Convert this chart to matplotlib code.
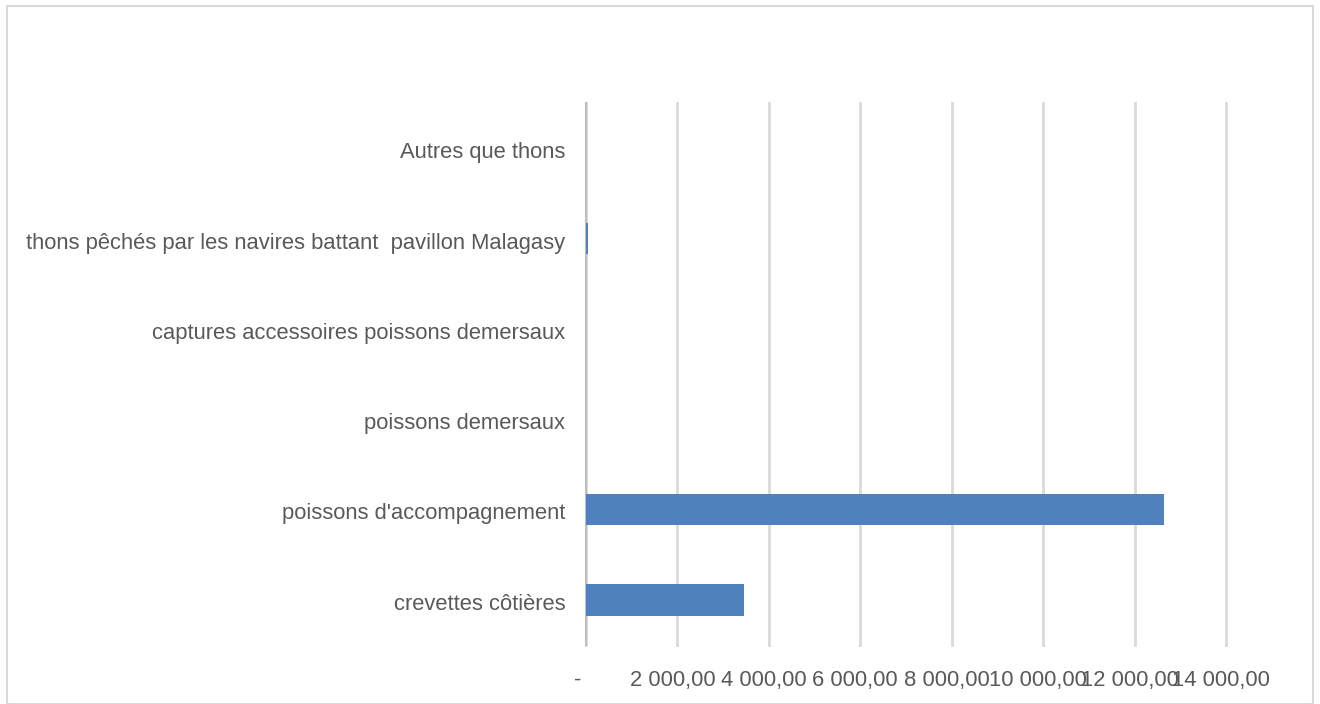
import numpy as np
import matplotlib
matplotlib.use('Agg')
import matplotlib.pyplot as plt
from matplotlib.patches import Rectangle
from matplotlib.transforms import ScaledTranslation

categories = ['crevettes côtières',
              "poissons d'accompagnement",
              'poissons demersaux',
              'captures accessoires poissons demersaux',
              'thons pêchés par les navires battant  pavillon Malagasy',
              'Autres que thons']
values = [3455, 12645, 0, 0, 50, 0]
xticks = [0, 2000, 4000, 6000, 8000, 10000, 12000, 14000]
xticklabels = ['-', '2 000,00', '4 000,00', '6 000,00', '8 000,00',
               '10 000,00', '12 000,00', '14 000,00']

plt.rcParams['font.family'] = ['Liberation Sans', 'DejaVu Sans']
txt = '#595959'

fig = plt.figure(figsize=(13.2, 7.04), dpi=100)
ax = fig.add_axes([586/1320, 1-645/704, (1226-586)/1320, (645-103)/704])

y = np.arange(len(categories))
ax.barh(y, values, height=0.35, color='#4f81bd', zorder=3)
ax.set_ylim(-0.5, len(categories)-0.5)
ax.set_xlim(0, 14000)

ax.set_xticks(xticks)
ax.set_xticklabels(xticklabels, fontsize=15.8, color=txt)
ax.set_yticks(y)
ax.set_yticklabels(categories, fontsize=15.8, color=txt)
ax.tick_params(axis='x', length=0, pad=18)
ax.tick_params(axis='y', length=0, pad=15)
ax.grid(axis='x', color='#d9d9d9', linewidth=2, zorder=0)
for gl in ax.get_xgridlines():
    gl.set_clip_on(False)
for i, lab in enumerate(ax.get_xticklabels()):
    dx = -8 if i == 0 else -5
    lab.set_transform(lab.get_transform() + ScaledTranslation(dx/100, 0, fig.dpi_scale_trans))
for lab in ax.get_yticklabels():
    lab.set_transform(lab.get_transform() + ScaledTranslation(0, -2/100, fig.dpi_scale_trans))
for s in ['top', 'right', 'bottom']:
    ax.spines[s].set_visible(False)
ax.spines['left'].set_color('#bfbfbf')
ax.spines['left'].set_linewidth(1.5)
ax.spines['left'].set_zorder(2)

# chart frame
fig.patches.append(Rectangle((7/1320, 0), 1306/1320, 1-6/704,
                             transform=fig.transFigure, fill=False,
                             edgecolor='#d9d9d9', linewidth=1.5))

fig.savefig('out.png', dpi=100)
